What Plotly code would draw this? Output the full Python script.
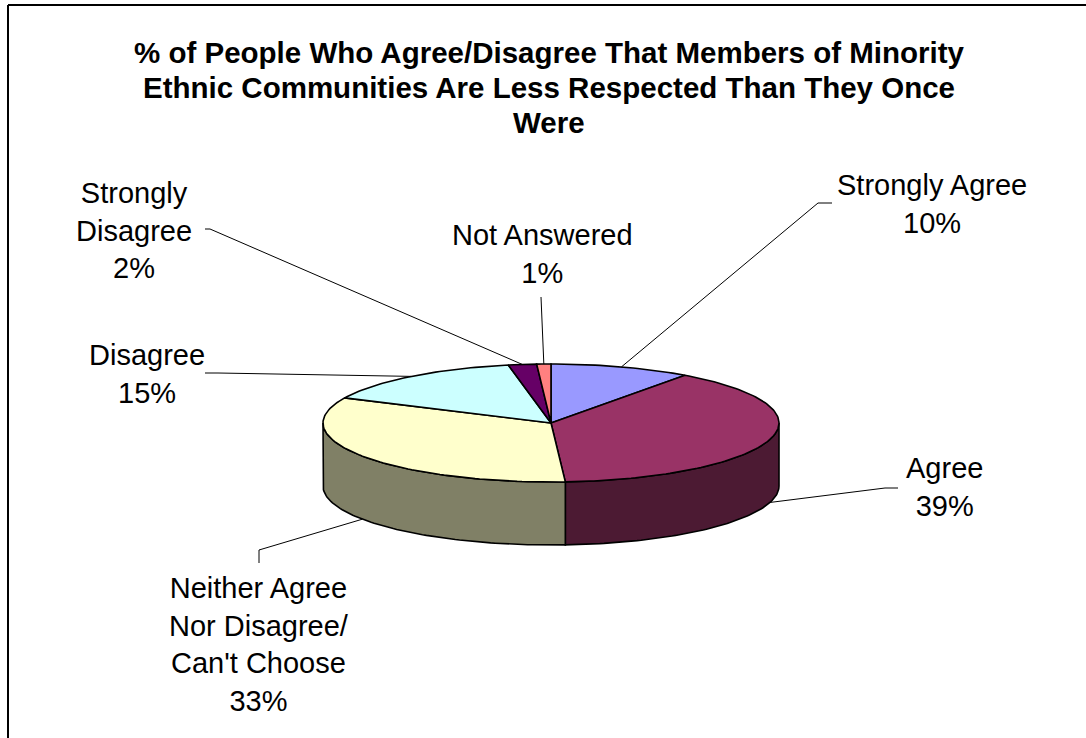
import numpy as np
import plotly.graph_objects as go

# ---- data ----
categories = ["Strongly Agree", "Agree",
              "Neither Agree<br>Nor Disagree/<br>Can't Choose",
              "Disagree", "Strongly<br>Disagree", "Not Answered"]
values = [10, 39, 33, 15, 2, 1]
top_colors = ["#9999FF", "#993366", "#FFFFCC", "#CCFFFF", "#660066", "#FF8080"]

title_lines = ["% of People Who Agree/Disagree That Members of Minority",
               "Ethnic Communities Are Less Respected Than They Once",
               "Were"]

# ---- layout (pixel space) ----
W, H = 1086, 738
CX, CY = 551, 423          # centre of the top face
RX, RY = 228, 59           # ellipse radii of the top face
DEPTH = 63                 # thickness of the pie

# label block centres and leader-line start / elbow points
label_pos = [(932, 204), (944, 487), (259, 644), (147, 374), (134, 230), (542, 254)]
leader_start = [(832, 203), (898, 488), (259, 563), (205, 373), (205, 229), (541, 297)]
leader_elbow = [(818, 203), (885, 488), (259, 550), (218, 373), (210, 229), (541, 297)]
title_x, title_y = 549, [52, 87, 122]

FONT = "Liberation Sans, Arial"


def darken(hex_color, f=0.5):
    h = hex_color.lstrip("#")
    r, g, b = (int(h[i:i + 2], 16) for i in (0, 2, 4))
    return "#%02X%02X%02X" % (round(r * f), round(g * f), round(b * f))


def ellipse_pt(deg, dy=0.0):
    t = np.radians(deg)
    return CX + RX * np.sin(t), CY - RY * np.cos(t) + dy


total = float(sum(values))
bounds = np.concatenate([[0], np.cumsum(values)]) / total * 360.0

fig = go.Figure()

# side walls (only the front half, 90..270 deg, is visible)
for i, c in enumerate(top_colors):
    a0, a1 = max(bounds[i], 90.0), min(bounds[i + 1], 270.0)
    if a1 <= a0:
        continue
    ang = np.linspace(a0, a1, 80)
    xt, yt = ellipse_pt(ang)
    xb, yb = ellipse_pt(ang[::-1], DEPTH)
    xs = np.concatenate([xt, xb, xt[:1]])
    ys = np.concatenate([yt, yb, yt[:1]])
    fig.add_trace(go.Scatter(x=xs, y=ys, mode="lines", fill="toself",
                             fillcolor=darken(c), line=dict(color="black", width=1.6),
                             hoverinfo="skip"))

# top faces
for i, c in enumerate(top_colors):
    ang = np.linspace(bounds[i], bounds[i + 1], max(4, int(values[i] * 3)))
    xa, ya = ellipse_pt(ang)
    xs = np.concatenate([[CX], xa, [CX]])
    ys = np.concatenate([[CY], ya, [CY]])
    fig.add_trace(go.Scatter(x=xs, y=ys, mode="lines", fill="toself",
                             fillcolor=c, line=dict(color="black", width=1.6),
                             name=categories[i].replace("<br>", " "),
                             hoverinfo="name"))

# leader lines and labels
annotations = []
for i in range(len(values)):
    mid = (bounds[i] + bounds[i + 1]) / 2.0
    front = 90.0 < mid < 270.0
    ex, ey = ellipse_pt(mid, DEPTH if front else 0.0)
    sx, sy = leader_start[i]
    kx, ky = leader_elbow[i]
    fig.add_trace(go.Scatter(x=[sx, kx, ex], y=[sy, ky, ey], mode="lines",
                             line=dict(color="black", width=1), hoverinfo="skip"))
    pct = round(values[i] / total * 100)
    lx, ly = label_pos[i]
    annotations.append(dict(x=lx, y=ly, xref="x", yref="y", showarrow=False,
                            text=f"{categories[i]}<br>{pct}%", align="center",
                            xanchor="center", yanchor="middle",
                            font=dict(family=FONT, size=29, color="black")))

for line, ty in zip(title_lines, title_y):
    annotations.append(dict(x=title_x, y=ty, xref="x", yref="y", showarrow=False,
                            text=f"<b>{line}</b>", xanchor="center", yanchor="middle",
                            font=dict(family=FONT, size=29.5, color="black")))

fig.update_layout(
    width=W, height=H,
    margin=dict(l=0, r=0, t=0, b=0),
    paper_bgcolor="white", plot_bgcolor="white",
    showlegend=False,
    annotations=annotations,
    xaxis=dict(range=[0, W], visible=False, fixedrange=True),
    yaxis=dict(range=[H, 0], visible=False, fixedrange=True),
    shapes=[
        dict(type="line", xref="x", yref="y", x0=8, y0=5, x1=W, y1=5,
             line=dict(color="black", width=2), layer="below"),
        dict(type="line", xref="x", yref="y", x0=8, y0=5, x1=8, y1=H,
             line=dict(color="black", width=2), layer="below"),
    ],
)

fig.write_html("out.html", config={"displayModeBar": False})
